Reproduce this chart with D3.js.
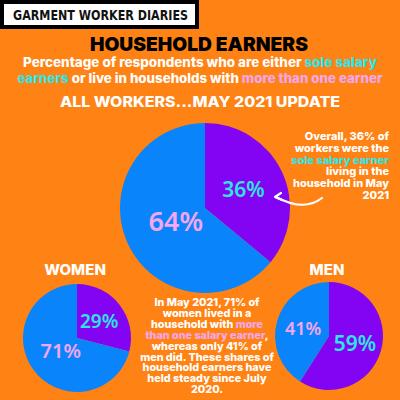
<!DOCTYPE html>
<html>
<head>
<meta charset="utf-8">
<script src="https://cdn.jsdelivr.net/npm/d3@7"></script>
<style>
  body { margin: 0; background: #ff8314; }
  svg { display: block; }
  text { font-family: Inter, "Open Sans", sans-serif; font-weight: 800; }
  .pct { font-family: "Noto Sans", sans-serif; font-weight: 600; }
</style>
</head>
<body>
<div id="chart"></div>
<script>
// data
var categories = ["Sole salary earner", "More than one earner"]
var allWorkers = [36, 64]
var women = [29, 71]
var men = [59, 41]

var W = 400, H = 400
var ORANGE = "#ff8314", PURPLE = "#8204f2", BLUE = "#0a84fb", CYAN = "#2ee6e6", PINK = "#f5a6f2"

var svg = d3.select("#chart").append("svg").attr("width", W).attr("height", H)
svg.append("rect").attr("width", W).attr("height", H).attr("fill", ORANGE)

var color = d3.scaleOrdinal().domain(categories).range([PURPLE, BLUE])
var labelColor = d3.scaleOrdinal().domain(categories).range([CYAN, PINK])

/* header box */
svg.append("rect").attr("x", 2).attr("y", 2).attr("width", 195).attr("height", 25)
    .attr("fill", "#fff").attr("stroke", "#000").attr("stroke-width", 4)
svg.append("text").attr("x", 13).attr("y", 20)
    .attr("font-size", 14).attr("textLength", 175).attr("lengthAdjust", "spacingAndGlyphs")
    .style("font-family", "'DejaVu Sans Condensed', sans-serif").style("font-weight", 700)
    .attr("fill", "#111").text("GARMENT WORKER DIARIES")

/* titles */
svg.append("text").attr("x", 199).attr("y", 51).attr("text-anchor", "middle")
    .attr("font-size", 19).attr("textLength", 218).attr("lengthAdjust", "spacingAndGlyphs")
    .style("font-weight", 900).attr("fill", "#000").text("HOUSEHOLD EARNERS")

function richLine(x, y, size, len, parts, anchor) {
    var t = svg.append("text").attr("x", x).attr("y", y).attr("font-size", size)
        .attr("text-anchor", anchor || "middle")
    if (len) t.attr("textLength", len).attr("lengthAdjust", "spacingAndGlyphs")
    parts.forEach(function(p){
        t.append("tspan").attr("fill", p[1] || "#fff").text(p[0])
    })
    return t
}

richLine(200, 67, 13, 354, [["Percentage of respondents who are either "], ["sole salary", CYAN]])
richLine(200, 83, 13, 365, [["earners", CYAN], [" or live in households with "], ["more than one earner", PINK]])
richLine(200, 107, 15, 280, [["ALL WORKERS...MAY 2021 UPDATE"]])

/* pies */
var pie = d3.pie().sort(null).value(function(d){ return d.value })

function drawPie(values, cx, cy, r, fontSize, labelFrac) {
    var rows = categories.map(function(c, i){ return {cat: c, value: values[i]} })
    var arcs = pie(rows)
    var arc = d3.arc().innerRadius(0).outerRadius(r)
    var g = svg.append("g").attr("transform", "translate(" + cx + "," + cy + ")")
    g.selectAll("path").data(arcs).enter().append("path")
        .attr("d", arc).attr("fill", function(d){ return color(d.data.cat) })
    g.selectAll("text").data(arcs).enter().append("text")
        .attr("class", "pct")
        .attr("transform", function(d, i){
            var lr = r * labelFrac[i]
            var lab = d3.arc().innerRadius(lr).outerRadius(lr)
            return "translate(" + lab.centroid(d) + ")"
        })
        .attr("text-anchor", "middle").attr("dy", "0.36em")
        .attr("font-size", function(d, i){ return fontSize[i] })
        .attr("fill", function(d){ return labelColor(d.data.cat) })
        .text(function(d){ return d.data.value + "%" })
}

// font size and label radius are per slice
drawPie(allWorkers, 205, 208, 85, [21, 27], [0.5, 0.38])
drawPie(women, 77, 338, 54, [19, 20], [0.52, 0.38])
drawPie(men, 329, 336, 54, [21, 18], [0.5, 0.5])

/* section labels */
svg.append("text").attr("x", 75).attr("y", 275).attr("text-anchor", "middle")
    .attr("font-size", 15).attr("fill", "#fff").text("WOMEN")
svg.append("text").attr("x", 327).attr("y", 275).attr("text-anchor", "middle")
    .attr("font-size", 15).attr("fill", "#fff").text("MEN")

/* right annotation */
var noteLines = [
    [["Overall, 36% of"]],
    [["workers were the"]],
    [["sole salary earner", CYAN]],
    [["living in the"]],
    [["household in May"]],
    [["2021"]]
]
noteLines.forEach(function(l, i){ richLine(389, 140 + i * 11.8, 11, null, l, "end") })

/* arrow */
svg.append("path").attr("d", "M322,198 Q304,212 276,197")
    .attr("fill", "none").attr("stroke", "#fff").attr("stroke-width", 2.2).attr("stroke-linecap", "round")
svg.append("path").attr("d", "M281,193 L275,197 L282,200")
    .attr("fill", "none").attr("stroke", "#fff").attr("stroke-width", 2.2)
    .attr("stroke-linecap", "round").attr("stroke-linejoin", "round")

/* middle annotation */
var midLines = [
    [["In May 2021, 71% of"]],
    [["women lived in a"]],
    [["household with "], ["more", PINK]],
    [["than one salary earner", PINK], [","]],
    [["whereas only 41% of"]],
    [["men did. These shares of"]],
    [["household earners have"]],
    [["held steady since July"]],
    [["2020."]]
]
midLines.forEach(function(l, i){ richLine(207, 306 + i * 10.9, 10.8, null, l) })
</script>
</body>
</html>
